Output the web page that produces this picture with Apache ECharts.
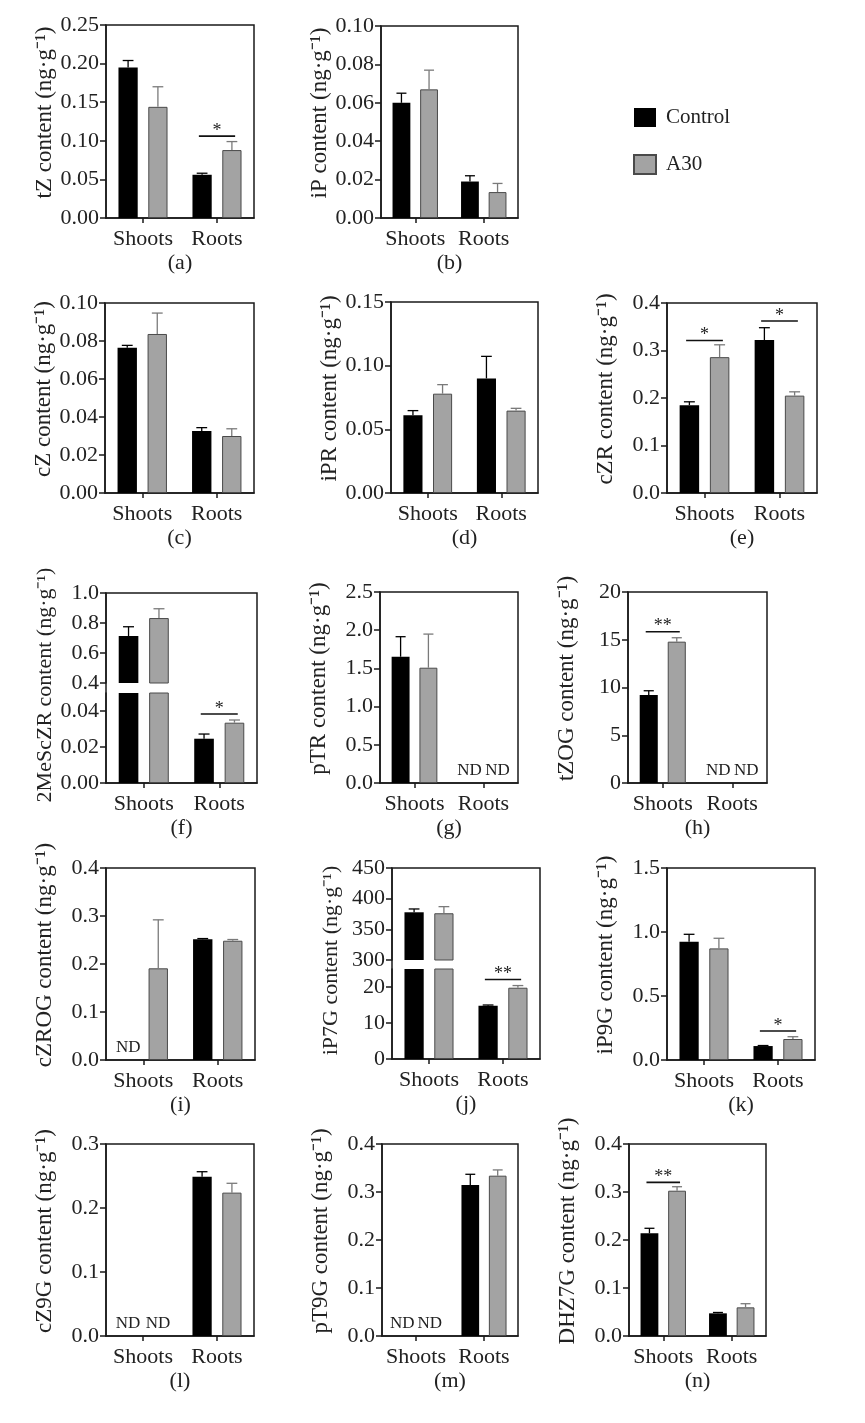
<!DOCTYPE html>
<html><head><meta charset="utf-8">
<script src="https://cdn.jsdelivr.net/npm/echarts@6/dist/echarts.min.js"></script>
<style>html,body{margin:0;padding:0;background:#fff}#c{width:865px;height:1423px}</style>
</head><body><div id="c"></div><script>
const categories = ['Shoots', 'Roots'];
const seriesNames = ['Control', 'A30'];

// (a) tZ
const tZControl = [0.195, 0.056];
const tZControlErr = [0.009, 0.002];
const tZA30 = [0.144, 0.088];
const tZA30Err = [0.026, 0.011];
const tZSig = [[1, 0.106, 1]];
// (b) iP
const iPControl = [0.060, 0.019];
const iPControlErr = [0.005, 0.003];
const iPA30 = [0.067, 0.0135];
const iPA30Err = [0.010, 0.0045];
const iPSig = [];
// (c) cZ
const cZControl = [0.0765, 0.0326];
const cZControlErr = [0.0012, 0.0018];
const cZA30 = [0.0837, 0.030];
const cZA30Err = [0.011, 0.0038];
const cZSig = [];
// (d) iPR
const iPRControl = [0.061, 0.090];
const iPRControlErr = [0.0037, 0.0173];
const iPRA30 = [0.078, 0.0647];
const iPRA30Err = [0.0071, 0.0018];
const iPRSig = [];
// (e) cZR
const cZRControl = [0.185, 0.322];
const cZRControlErr = [0.007, 0.026];
const cZRA30 = [0.286, 0.205];
const cZRA30Err = [0.026, 0.008];
const cZRSig = [[0, 0.321, 1], [1, 0.362, 1]];
// (f) 2MeScZR (broken axis)
const meScZRControl = [0.713, 0.0246];
const meScZRControlErr = [0.062, 0.0026];
const meScZRA30 = [0.833, 0.0335];
const meScZRA30Err = [0.062, 0.0015];
const meScZRSig = [[1, 0.0383, 1]];
const meScZRUpperTicks = [0.4, 0.6, 0.8, 1.0];
const meScZRLowerTicks = [0, 0.02, 0.04];
// (g) pTR
const pTRControl = [1.653, null];
const pTRControlErr = [0.262, null];
const pTRA30 = [1.509, null];
const pTRA30Err = [0.44, null];
const pTRSig = [];
// (h) tZOG
const tZOGControl = [9.21, null];
const tZOGControlErr = [0.45, null];
const tZOGA30 = [14.80, null];
const tZOGA30Err = [0.41, null];
const tZOGSig = [[0, 15.84, 2]];
// (i) cZROG
const cZROGControl = [null, 0.2514];
const cZROGControlErr = [null, 0.0016];
const cZROGA30 = [0.191, 0.2485];
const cZROGA30Err = [0.101, 0.0025];
const cZROGSig = [];
// (j) iP7G (broken axis)
const iP7GControl = [377.8, 14.8];
const iP7GControlErr = [5.4, 0.2];
const iP7GA30 = [376.2, 19.8];
const iP7GA30Err = [10.8, 0.6];
const iP7GSig = [[1, 22.1, 2]];
const iP7GUpperTicks = [300, 350, 400, 450];
const iP7GLowerTicks = [0, 10, 20];
// (k) iP9G
const iP9GControl = [0.924, 0.109];
const iP9GControlErr = [0.058, 0.004];
const iP9GA30 = [0.872, 0.164];
const iP9GA30Err = [0.079, 0.018];
const iP9GSig = [[1, 0.227, 1]];
// (l) cZ9G
const cZ9GControl = [null, 0.249];
const cZ9GControlErr = [null, 0.0077];
const cZ9GA30 = [null, 0.224];
const cZ9GA30Err = [null, 0.0146];
const cZ9GSig = [];
// (m) pT9G
const pT9GControl = [null, 0.3146];
const pT9GControlErr = [null, 0.0223];
const pT9GA30 = [null, 0.334];
const pT9GA30Err = [null, 0.012];
const pT9GSig = [];
// (n) DHZ7G
const DHZ7GControl = [0.214, 0.0472];
const DHZ7GControlErr = [0.0104, 0.0018];
const DHZ7GA30 = [0.3027, 0.0597];
const DHZ7GA30Err = [0.0083, 0.0076];
const DHZ7GSig = [[0, 0.320, 2]];

const panelDefs = [
  {tag:'a', compound:'tZ', box:[106,25,254,218], axis:[0,0.25,0.05,2], c:tZControl, ce:tZControlErr, t:tZA30, te:tZA30Err, sig:tZSig},
  {tag:'b', compound:'iP', box:[381,26,518,218], axis:[0,0.10,0.02,2], c:iPControl, ce:iPControlErr, t:iPA30, te:iPA30Err, sig:iPSig},
  {tag:'c', compound:'cZ', box:[105,303,254,493], axis:[0,0.10,0.02,2], c:cZControl, ce:cZControlErr, t:cZA30, te:cZA30Err, sig:cZSig},
  {tag:'d', compound:'iPR', box:[391,302,538,493], axis:[0,0.15,0.05,2], c:iPRControl, ce:iPRControlErr, t:iPRA30, te:iPRA30Err, sig:iPRSig},
  {tag:'e', compound:'cZR', box:[667,303,817,493], axis:[0,0.4,0.1,1], c:cZRControl, ce:cZRControlErr, t:cZRA30, te:cZRA30Err, sig:cZRSig},
  {tag:'f', compound:'2MeScZR', box:[106,593,257,783], c:meScZRControl, ce:meScZRControlErr, t:meScZRA30, te:meScZRA30Err, sig:meScZRSig,
    broken:{upper:[0.4,1.0,1,meScZRUpperTicks], lower:[0,0.05,2,meScZRLowerTicks], upperBottom:683, lowerTop:693}},
  {tag:'g', compound:'pTR', box:[380,592,518,783], axis:[0,2.5,0.5,1], c:pTRControl, ce:pTRControlErr, t:pTRA30, te:pTRA30Err, sig:pTRSig},
  {tag:'h', compound:'tZOG', box:[628,592,767,783], axis:[0,20,5,0], c:tZOGControl, ce:tZOGControlErr, t:tZOGA30, te:tZOGA30Err, sig:tZOGSig},
  {tag:'i', compound:'cZROG', box:[106,868,255,1060], axis:[0,0.4,0.1,1], c:cZROGControl, ce:cZROGControlErr, t:cZROGA30, te:cZROGA30Err, sig:cZROGSig},
  {tag:'j', compound:'iP7G', box:[392,868,540,1059], c:iP7GControl, ce:iP7GControlErr, t:iP7GA30, te:iP7GA30Err, sig:iP7GSig,
    broken:{upper:[300,450,0,iP7GUpperTicks], lower:[0,25,0,iP7GLowerTicks], upperBottom:960, lowerTop:969}},
  {tag:'k', compound:'iP9G', box:[667,868,815,1060], axis:[0,1.5,0.5,1], c:iP9GControl, ce:iP9GControlErr, t:iP9GA30, te:iP9GA30Err, sig:iP9GSig},
  {tag:'l', compound:'cZ9G', box:[106,1144,254,1336], axis:[0,0.3,0.1,1], c:cZ9GControl, ce:cZ9GControlErr, t:cZ9GA30, te:cZ9GA30Err, sig:cZ9GSig},
  {tag:'m', compound:'pT9G', box:[382,1144,518,1336], axis:[0,0.4,0.1,1], c:pT9GControl, ce:pT9GControlErr, t:pT9GA30, te:pT9GA30Err, sig:pT9GSig},
  {tag:'n', compound:'DHZ7G', box:[629,1144,766,1336], axis:[0,0.4,0.1,1], c:DHZ7GControl, ce:DHZ7GControlErr, t:DHZ7GA30, te:DHZ7GA30Err, sig:DHZ7GSig}
];

const FONT = '"Liberation Serif", "Times New Roman", serif';
const TXT = '#222';
const LINE = '#1a1a1a';
const BAR_W = 0.26, BAR_GAP = 0.55;
const FS = 22;
const NAME_FS = 23;

const grids = [], xAxes = [], yAxes = [], series = [];

function addGrid(l, t, r, b, border) {
  grids.push({left:l, top:t, width:r-l, height:b-t, show:border, borderColor:LINE, borderWidth:1.5, backgroundColor:'rgba(0,0,0,0)'});
  return grids.length - 1;
}
function addXAxis(gi, visible, tag) {
  xAxes.push({
    gridIndex:gi, type:'category', data:categories, show:visible,
    axisLine:{show:true, lineStyle:{color:LINE, width:1.5}},
    axisTick:{show:true, alignWithLabel:true, interval:0, length:5, lineStyle:{color:LINE, width:1.5}},
    axisLabel:{color:TXT, fontFamily:FONT, fontSize:FS, margin:10, interval:0, hideOverlap:false},
    splitLine:{show:false},
    name: tag ? '(' + tag + ')' : '', nameLocation:'middle', nameGap:34,
    nameTextStyle:{color:TXT, fontFamily:FONT, fontSize:FS}
  });
  return xAxes.length - 1;
}
function yName(compound) { return compound + ' content (ng·g⁻¹)'; }
function addYAxis(gi, min, max, interval, dec, ticks, name, namePad) {
  const ax = {
    gridIndex:gi, type:'value', min:min, max:max, splitLine:{show:false},
    axisLine:{show:true, lineStyle:{color:LINE, width:1.5}},
    axisTick:{show:true, length:6, lineStyle:{color:LINE, width:1.5}},
    axisLabel:{color:TXT, fontFamily:FONT, fontSize:FS, margin:7, formatter:v => Number(v).toFixed(dec)}
  };
  if (interval != null) ax.interval = interval;
  if (ticks) { ax.axisTick.customValues = ticks; ax.axisLabel.customValues = ticks; }
  if (name) {
    ax.name = name; ax.nameLocation = 'middle'; ax.nameRotate = 90; ax.nameGap = 50;
    ax.nameTextStyle = {color:TXT, fontFamily:FONT, fontSize:NAME_FS, padding:[0,0,0,namePad]};
  }
  yAxes.push(ax);
  return yAxes.length - 1;
}
function addFrameYAxis(gi, name) {
  yAxes.push({
    gridIndex:gi, type:'value', min:0, max:1, splitLine:{show:false},
    axisLine:{show:false}, axisTick:{show:false}, axisLabel:{show:false},
    name:name, nameLocation:'middle', nameRotate:90, nameGap:50,
    nameTextStyle:{color:TXT, fontFamily:FONT, fontSize:FS, padding:[0,0,0,6]}
  });
  return yAxes.length - 1;
}

function errRender(params, api) {
  const cat = api.value(0), m = api.value(1), e = api.value(2), s = api.value(3);
  const band = api.size([1, 0])[0];
  const bw = band * BAR_W, off = bw * (1 + BAR_GAP) / 2;
  const p0 = api.coord([cat, m]), p1 = api.coord([cat, m + e]);
  const x = p0[0] + (s === 0 ? -off : off);
  const cap = bw * 0.28;
  const color = s === 0 ? '#000' : '#7a7a7a';
  return {type:'group', children:[
    {type:'line', shape:{x1:x, y1:p0[1], x2:x, y2:p1[1]}, style:{stroke:color, lineWidth:1.3}},
    {type:'line', shape:{x1:x-cap, y1:p1[1], x2:x+cap, y2:p1[1]}, style:{stroke:color, lineWidth:1.3}}
  ]};
}
function sigRender(params, api) {
  const cat = api.value(0), y = api.value(1), n = api.value(2);
  const band = api.size([1, 0])[0];
  const half = band * 0.245;
  const p = api.coord([cat, y]);
  return {type:'group', children:[
    {type:'line', shape:{x1:p[0]-half, y1:p[1], x2:p[0]+half, y2:p[1]}, style:{stroke:'#111', lineWidth:1.6}},
    {type:'text', x:p[0], y:p[1]+4, style:{text:'*'.repeat(n), fill:TXT, font:'18px ' + FONT, align:'center', verticalAlign:'bottom'}}
  ]};
}
function ndRender(params, api) {
  const cat = api.value(0), s = api.value(2);
  const band = api.size([1, 0])[0];
  const bw = band * BAR_W, off = bw * (1 + BAR_GAP) / 2;
  const p = api.coord([cat, api.value(1)]);
  return {type:'text', x:p[0] + (s === 0 ? -off : off), y:p[1] - 4,
    style:{text:'ND', fill:TXT, font:'17px ' + FONT, align:'center', verticalAlign:'bottom'}};
}

function addSeries(xi, yi, p, withSig, withND) {
  const common = {xAxisIndex:xi, yAxisIndex:yi, silent:true, animation:false};
  series.push(Object.assign({type:'bar', name:seriesNames[0], data:p.c, barWidth:(BAR_W*100)+'%', barGap:(BAR_GAP*100)+'%',
    itemStyle:{color:'#000'}}, common));
  series.push(Object.assign({type:'bar', name:seriesNames[1], data:p.t, barWidth:(BAR_W*100)+'%', barGap:(BAR_GAP*100)+'%',
    itemStyle:{color:'#a3a3a3', borderColor:'#4a4a4a', borderWidth:1}}, common));
  const errData = [];
  p.c.forEach((v, i) => { if (v != null) errData.push([i, v, p.ce[i], 0]); });
  p.t.forEach((v, i) => { if (v != null) errData.push([i, v, p.te[i], 1]); });
  series.push(Object.assign({type:'custom', data:errData, renderItem:errRender, clip:true, z:3}, common));
  if (withSig && p.sig.length) series.push(Object.assign({type:'custom', data:p.sig, renderItem:sigRender, clip:false, z:4}, common));
  if (withND) {
    const nd = [];
    p.c.forEach((v, i) => { if (v == null) nd.push([i, 0, 0]); });
    p.t.forEach((v, i) => { if (v == null) nd.push([i, 0, 1]); });
    if (nd.length) series.push(Object.assign({type:'custom', data:nd, renderItem:ndRender, clip:false, z:4}, common));
  }
}

panelDefs.forEach(p => {
  const [l, t, r, b] = p.box;
  if (!p.broken) {
    const gi = addGrid(l, t, r, b, true);
    const xi = addXAxis(gi, true, p.tag);
    const yi = addYAxis(gi, p.axis[0], p.axis[1], p.axis[2], p.axis[3], null, yName(p.compound), 18);
    addSeries(xi, yi, p, true, true);
  } else {
    const br = p.broken;
    const gf = addGrid(l, t, r, b, true);
    addXAxis(gf, true, p.tag);
    addFrameYAxis(gf, yName(p.compound));
    const gu = addGrid(l, t, r, br.upperBottom, false);
    const xu = addXAxis(gu, false, null);
    const yu = addYAxis(gu, br.upper[0], br.upper[1], null, br.upper[2], br.upper[3], null, 0);
    addSeries(xu, yu, p, false, false);
    const gl = addGrid(l, br.lowerTop, r, b, false);
    const xl = addXAxis(gl, false, null);
    const yl = addYAxis(gl, br.lower[0], br.lower[1], null, br.lower[2], br.lower[3], null, 0);
    addSeries(xl, yl, p, true, true);
  }
});

const chart = echarts.init(document.getElementById('c'), null, {renderer:'canvas'});
chart.setOption({
  backgroundColor:'#fff',
  animation:false,
  legend:{
    data:seriesNames, orient:'vertical', left:628, top:102, itemWidth:22, itemHeight:19, itemGap:26,
    selectedMode:false, icon:'rect',
    textStyle:{fontFamily:FONT, fontSize:21, color:TXT, lineHeight:19, padding:[0,0,0,5]}
  },
  grid:grids, xAxis:xAxes, yAxis:yAxes, series:series
});
</script></body></html>
